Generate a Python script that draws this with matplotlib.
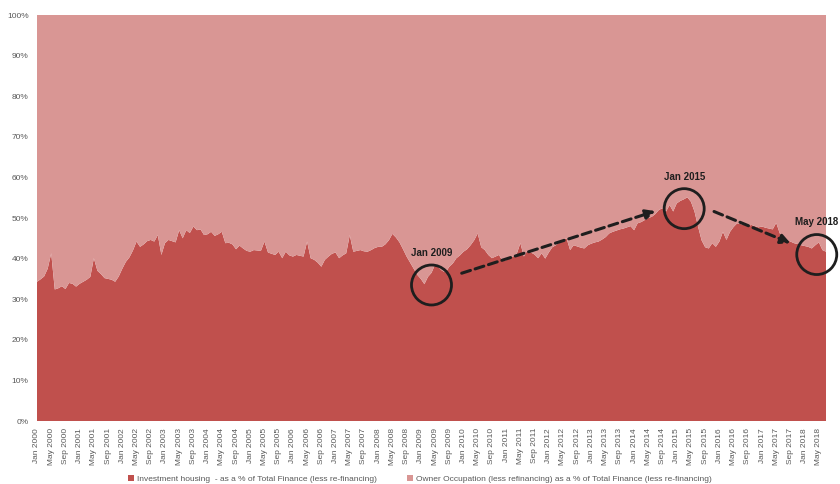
import matplotlib
matplotlib.use("Agg")
import matplotlib.pyplot as plt
from matplotlib.patches import Patch
from matplotlib.ticker import FixedLocator, FuncFormatter

# Monthly data, Jan 2000 .. Jul 2018 (investment housing share, %)
inv_2000 = [34.3, 34.9, 35.6, 37.5, 41.3, 32.4, 32.7, 33.2, 32.5, 34.0, 33.8, 33.1]
inv_2001 = [33.8, 34.3, 34.8, 35.5, 40.1, 37.0, 36.2, 35.2, 35.0, 34.8, 34.3, 35.6]
inv_2002 = [37.5, 39.2, 40.3, 42.0, 44.2, 42.9, 43.5, 44.3, 44.6, 44.2, 45.8, 40.9]
inv_2003 = [43.8, 44.6, 44.3, 44.0, 47.0, 45.0, 47.0, 46.3, 47.9, 47.0, 47.2, 45.8]
inv_2004 = [46.0, 46.6, 45.6, 46.0, 46.6, 43.8, 43.9, 43.5, 42.3, 43.2, 42.5, 41.9]
inv_2005 = [41.7, 42.1, 42.0, 41.9, 44.2, 41.5, 41.2, 40.9, 41.7, 40.1, 41.7, 40.8]
inv_2006 = [40.5, 40.9, 40.7, 40.5, 44.2, 40.1, 39.7, 39.0, 38.0, 39.7, 40.5, 41.2]
inv_2007 = [41.5, 40.1, 40.8, 41.3, 45.8, 41.7, 41.9, 42.1, 41.8, 41.7, 42.1, 42.6]
inv_2008 = [42.9, 42.9, 43.5, 44.5, 46.1, 45.2, 44.0, 42.3, 40.5, 39.0, 37.5, 36.0]
inv_2009 = [35.0, 33.7, 35.5, 36.5, 38.5, 37.8, 37.0, 36.6, 38.0, 38.8, 40.1, 40.8]
inv_2010 = [41.7, 42.3, 43.3, 44.5, 46.2, 42.8, 42.1, 40.9, 40.1, 40.5, 40.9, 39.4]
inv_2011 = [39.6, 40.1, 40.5, 41.2, 43.8, 40.5, 42.1, 41.5, 41.0, 40.1, 41.3, 40.0]
inv_2012 = [41.5, 42.8, 43.3, 44.0, 44.6, 45.0, 42.1, 43.3, 43.0, 42.7, 42.5, 43.3]
inv_2013 = [43.7, 44.0, 44.2, 44.7, 45.3, 46.2, 46.6, 46.9, 47.2, 47.4, 47.7, 48.0]
inv_2014 = [47.0, 48.7, 49.0, 49.5, 50.0, 50.3, 51.0, 52.0, 52.4, 51.6, 53.2, 51.6]
inv_2015 = [53.6, 54.2, 54.6, 55.1, 54.0, 51.6, 47.9, 44.5, 42.8, 42.5, 43.8, 42.9]
inv_2016 = [44.2, 46.6, 44.6, 46.6, 47.8, 48.7, 48.5, 48.3, 48.0, 48.3, 48.0, 47.7]
inv_2017 = [47.9, 47.6, 47.4, 47.2, 48.8, 46.2, 45.5, 44.6, 44.2, 43.8, 43.6, 43.3]
inv_2018 = [43.1, 42.9, 42.5, 43.3, 44.0, 42.1, 41.7]

investment = (inv_2000 + inv_2001 + inv_2002 + inv_2003 + inv_2004 + inv_2005 +
              inv_2006 + inv_2007 + inv_2008 + inv_2009 + inv_2010 + inv_2011 +
              inv_2012 + inv_2013 + inv_2014 + inv_2015 + inv_2016 + inv_2017 +
              inv_2018)
owner = [100 - v for v in investment]

months = ["Jan", "Feb", "Mar", "Apr", "May", "Jun", "Jul", "Aug", "Sep", "Oct", "Nov", "Dec"]
dates = [f"{months[i % 12]} {2000 + i // 12}" for i in range(len(investment))]

series_names = ["Investment housing  - as a % of Total Finance (less re-financing)",
                "Owner Occupation (less refinancing) as a % of Total Finance (less re-financing)"]
colors = ["#C0504D", "#D99694"]

annot_labels = ["Jan 2009", "Jan 2015", "May 2018"]
annot_idx = [111.0, 182.1, 219.4]
annot_y = [33.5, 52.3, 41.0]

plt.rcParams['font.family'] = ['Liberation Sans', 'DejaVu Sans']

fig = plt.figure(figsize=(8.4, 4.84), dpi=100)
ax = fig.add_axes([37/840, 1 - 421/484, (826-37)/840, (421-15)/484])

x = list(range(len(investment)))
ax.stackplot(x, investment, owner, colors=colors, linewidth=0)
ax.set_xlim(0, len(investment) - 1)
ax.set_ylim(0, 100)

ax.yaxis.set_major_locator(FixedLocator(range(0, 101, 10)))
ax.yaxis.set_major_formatter(FuncFormatter(lambda v, p: f"{int(v)}%"))
ax.set_xticks(x[::4])
ax.set_xticklabels(dates[::4], rotation=90)
ax.tick_params(axis='both', length=0, labelsize=6, labelcolor="#595959")
ax.tick_params(axis='x', pad=5)
ax.tick_params(axis='y', pad=6)
for s in ax.spines.values():
    s.set_visible(False)

# circles
circ_d_pt = 40 * 72 / 100
ax.scatter(annot_idx, annot_y, s=circ_d_pt ** 2, facecolors='none',
           edgecolors='#1e1e1e', linewidths=2, zorder=5, clip_on=False)
for lbl, xi, yi in zip(annot_labels, annot_idx, annot_y):
    ax.annotate(lbl, (xi, yi), xytext=(0, 19.5), textcoords='offset points',
                ha='center', va='bottom', fontsize=7, fontweight='bold',
                color='#1e1e1e', zorder=6, annotation_clip=False)

# dashed arrows
arrow_kw = dict(arrowstyle='-|>', color='#1e1e1e', lw=2.2, linestyle=(0, (3, 1.6)),
                mutation_scale=14, shrinkA=0, shrinkB=0)
ax.annotate("", xy=(174, 51.7), xytext=(119.5, 36.4), arrowprops=arrow_kw)
ax.annotate("", xy=(212, 43.8), xytext=(190.5, 51.6), arrowprops=arrow_kw)

handles = [Patch(facecolor=c, edgecolor='none') for c in colors]
fig.legend(handles, series_names, loc='center', bbox_to_anchor=(0.5, 1 - 479/484),
           ncol=2, frameon=False, fontsize=6, handlelength=0.7, handleheight=0.7,
           handletextpad=0.4, columnspacing=3.6, labelcolor="#595959")

fig.savefig("out.png", dpi=100)
